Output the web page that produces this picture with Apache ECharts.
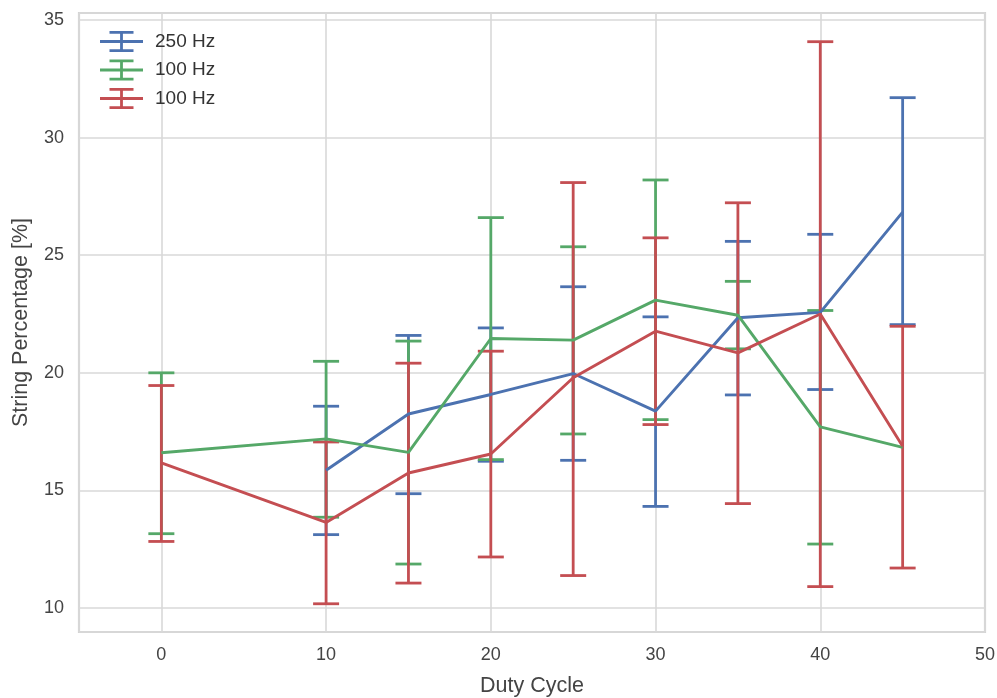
<!DOCTYPE html>
<html>
<head>
    <meta charset="UTF-8"/>
    <title>String Percentage vs Duty Cycle</title>
    <script type="text/javascript" src="https://cdn.jsdelivr.net/npm/echarts@6/dist/echarts.min.js"></script>
    <style>
        html, body { margin: 0; padding: 0; background: #fff; }
        #main { width: 997px; height: 698px; }
    </style>
</head>
<body>
<div id="main"></div>

<script type="text/javascript">
    // duty cycle positions
    var dutyCycle = [0, 10, 15, 20, 25, 30, 35, 40, 45];
    var legendLabels = ['250 Hz', '100 Hz', '100 Hz'];
    var colors = ['#4c72b0', '#55a868', '#c44e52'];

    // 250 Hz (blue)
    var blueMean = [null, 15.86, 18.25, 19.08, 19.97, 18.37, 22.34, 22.57, 26.83];
    var blueLow  = [null, 13.12, 14.86, 16.24, 16.28, 14.32, 19.06, 19.29, 22.05];
    var blueHigh = [null, 18.58, 21.59, 21.91, 23.66, 22.38, 25.59, 25.89, 31.70];

    // 100 Hz (green)
    var greenMean = [16.60, 17.19, 16.62, 21.46, 21.39, 23.09, 22.45, 17.70, 16.83];
    var greenLow  = [13.16, 13.86, 11.87, 16.31, 17.40, 18.01, 21.02, 12.72, null];
    var greenHigh = [20.00, 20.49, 21.35, 26.60, 25.36, 28.20, 23.89, 22.65, null];

    // 100 Hz (red)
    var redMean = [16.17, 13.64, 15.74, 16.55, 19.79, 21.77, 20.85, 22.50, 16.88];
    var redLow  = [12.83, 10.18, 11.06, 12.17, 11.38, 17.80, 14.44, 10.91, 11.70];
    var redHigh = [19.46, 17.06, 20.41, 20.92, 28.09, 25.74, 27.23, 34.08, 21.98];

    var means = [blueMean, greenMean, redMean];
    var lows = [blueLow, greenLow, redLow];
    var highs = [blueHigh, greenHigh, redHigh];

    var font = 'Liberation Sans, Arial, sans-serif';
    var capHalf = 13;

    // errorbar-like legend glyph (43 x 21)
    var errIcon = 'path://M0,9.1H43V11.9H0Z M20.1,0H22.9V21H20.1Z M9.5,0H33.5V2.8H9.5Z M9.5,18.2H33.5V21H9.5Z';

    function renderErr(params, api) {
        var x = api.value(0);
        var p1 = api.coord([x, api.value(1)]);
        var p2 = api.coord([x, api.value(2)]);
        var st = { stroke: api.visual('color'), lineWidth: 2.8 };
        return {
            type: 'group',
            children: [
                { type: 'line', shape: { x1: p1[0], y1: p1[1], x2: p2[0], y2: p2[1] }, style: st },
                { type: 'line', shape: { x1: p1[0] - capHalf, y1: p1[1], x2: p1[0] + capHalf, y2: p1[1] }, style: st },
                { type: 'line', shape: { x1: p2[0] - capHalf, y1: p2[1], x2: p2[0] + capHalf, y2: p2[1] }, style: st }
            ]
        };
    }

    var series = [];
    for (var s = 0; s < 3; s++) {
        var lineData = [], errData = [];
        for (var i = 0; i < dutyCycle.length; i++) {
            if (means[s][i] != null) lineData.push([dutyCycle[i], means[s][i]]);
            if (lows[s][i] != null) errData.push([dutyCycle[i], lows[s][i], highs[s][i]]);
        }
        series.push({
            name: 's' + s,
            type: 'line',
            data: lineData,
            symbol: 'none',
            color: colors[s],
            lineStyle: { width: 2.9, color: colors[s] }
        });
        series.push({
            name: 'e' + s,
            type: 'custom',
            data: errData,
            color: colors[s],
            renderItem: renderErr,
            encode: { x: 0, y: [1, 2] }
        });
    }

    var myChart = echarts.init(document.getElementById('main'));
    var option = {
        animation: false,
        backgroundColor: '#fff',
        grid: {
            left: 79, right: 12, top: 13, bottom: 66,
            outerBoundsMode: 'none',
            containLabel: false,
            show: true, borderColor: '#d3d3d3', borderWidth: 2.2
        },
        legend: {
            data: ['s0', 's1', 's2'],
            orient: 'vertical',
            left: 95, top: 26,
            icon: errIcon,
            itemWidth: 43, itemHeight: 21,
            itemGap: 7.5,
            itemStyle: { borderWidth: 0 },
            formatter: function (name) { return legendLabels[+name.slice(1)]; },
            textStyle: { fontFamily: font, fontSize: 19, color: '#333', padding: [0, 0, 0, 7] }
        },
        xAxis: {
            type: 'value',
            min: -5, max: 50,
            splitNumber: 6,
            name: 'Duty Cycle',
            nameLocation: 'middle',
            nameGap: 43,
            nameTextStyle: { fontFamily: font, fontSize: 21.5, color: '#444' },
            axisLine: { show: false },
            axisTick: { show: false },
            axisLabel: { showMinLabel: false, margin: 14, fontFamily: font, fontSize: 18, color: '#444' },
            splitLine: { lineStyle: { color: '#d9d9d9', width: 1.6 } }
        },
        yAxis: {
            type: 'value',
            min: 8.98, max: 35.3,
            splitNumber: 5,
            name: 'String Percentage [%]',
            nameLocation: 'middle',
            nameGap: 47,
            nameTextStyle: { fontFamily: font, fontSize: 21.5, color: '#444' },
            axisLine: { show: false },
            axisTick: { show: false },
            axisLabel: { showMinLabel: false, showMaxLabel: false, margin: 15, fontFamily: font, fontSize: 18, color: '#444' },
            splitLine: { lineStyle: { color: '#d9d9d9', width: 1.6 } }
        },
        series: series
    };
    myChart.setOption(option);
</script>
</body>
</html>
